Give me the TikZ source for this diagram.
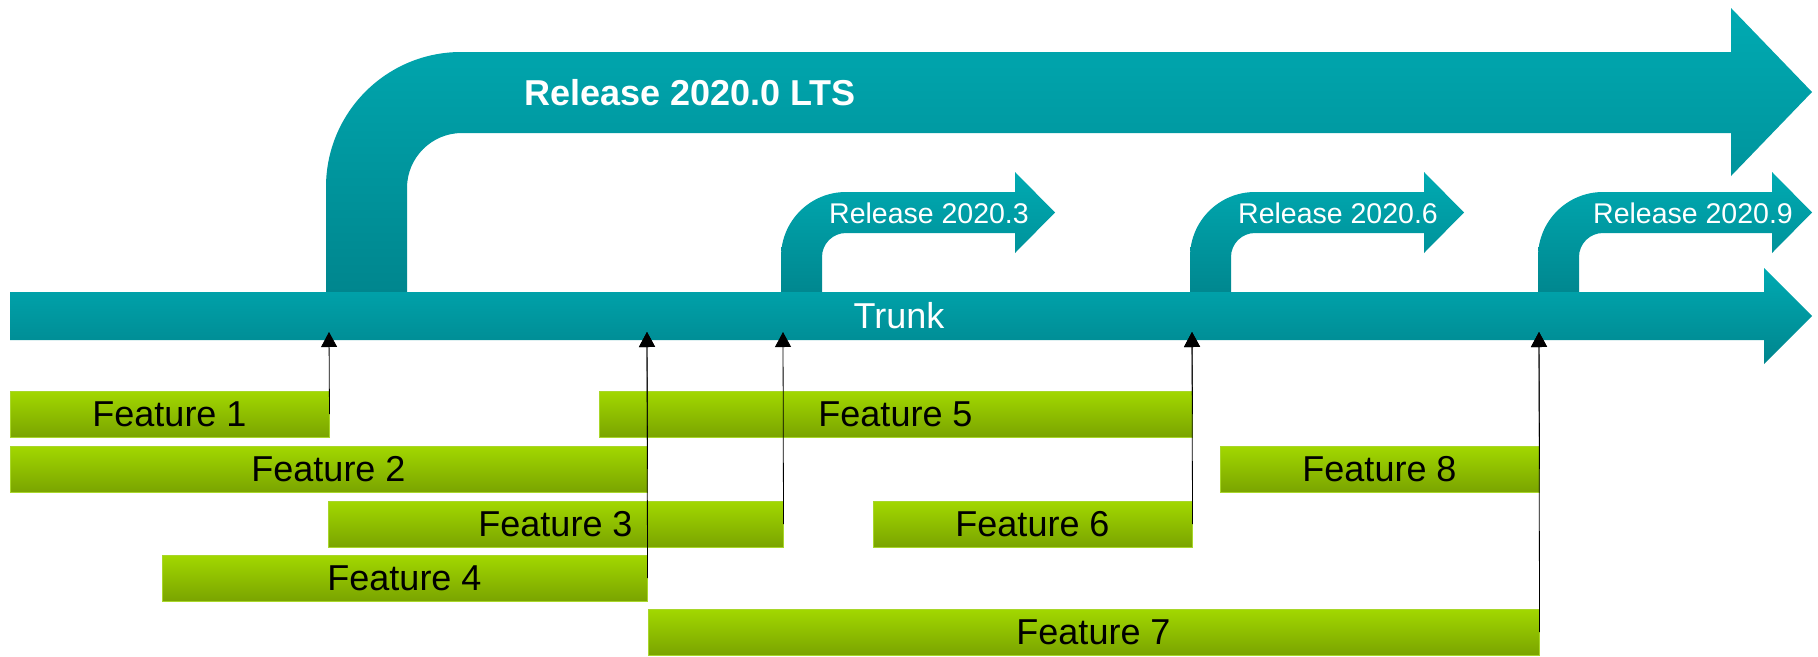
\documentclass[tikz,border=0pt]{standalone}
\usepackage{fontspec}
\setmainfont{Liberation Sans}
\usetikzlibrary{arrows.meta}
\definecolor{tealtop}{HTML}{00AAB2}
\definecolor{tealbot}{HTML}{00858D}
\definecolor{greentop}{HTML}{A2D800}
\definecolor{greenbot}{HTML}{7AA400}
\definecolor{greenedge}{HTML}{A8D62A}
\begin{document}
\begin{tikzpicture}[x=1pt,y=-1pt,
  feat/.style={draw=greenedge, line width=1pt, top color=greentop, bottom color=greenbot,
    minimum height=46pt, inner sep=0pt, font=\fontsize{36}{40}\selectfont, text=black},
  tealfill/.style={top color=tealtop, bottom color=tealbot, draw=none},
  rel/.style={text=white, font=\fontsize{28.5}{32}\selectfont, inner sep=0pt},
  link/.style={line width=0.8pt, draw=black, -{Triangle[width=16pt,length=15pt]}}]
\useasboundingbox (0,0) rectangle (1818,656);

% LTS branch
\shade[tealfill] (326,300) -- (326,187) arc[start angle=180,end angle=270,radius=135]
  -- (1731,52) -- (1731,8) -- (1812,92) -- (1731,176) -- (1731,133) -- (462,133)
  arc[start angle=270,end angle=180,radius=55] -- (407,300) -- cycle;

% small release branches
\foreach \L in {781,1190,1538}{
  \begin{scope}[shift={(\L,0)}]
  \shade[tealfill] (0,300) -- (0,257) arc[start angle=180,end angle=270,radius=65]
    -- (234,192) -- (234,172) -- (274,212.5) -- (234,253) -- (234,233) -- (65,233)
    arc[start angle=270,end angle=180,radius=24] -- (41,300) -- cycle;
  \end{scope}
}

% trunk
\shade[tealfill] (10,292) -- (1764,292) -- (1764,268) -- (1812,316) -- (1764,364)
  -- (1764,340) -- (10,340) -- cycle;

% labels
\node[text=white, inner sep=0pt, font=\fontsize{36}{40}\selectfont\bfseries] (lts) at (690,93) {Release 2020.0 LTS};
\node[rel] (r3) at (929,213) {Release 2020.3};
\node[rel] (r6) at (1338,213) {Release 2020.6};
\node[rel] (r9) at (1693,213) {Release 2020.9};
\node[text=white, inner sep=0pt, font=\fontsize{36}{40}\selectfont] (trunk) at (899,316) {Trunk};

% features
\node[feat, minimum width=319pt] (f1) at (169.5,414) {Feature 1};
\node[feat, minimum width=637pt] (f2) at (328.5,469) {Feature 2};
\node[feat, minimum width=455pt] (f3) at (555.5,524) {Feature 3};
\node[feat, minimum width=485pt] (f4) at (404.5,578) {Feature 4};
\node[feat, minimum width=593pt] (f5) at (895.5,414) {Feature 5};
\node[feat, minimum width=319pt] (f6) at (1032.5,524) {Feature 6};
\node[feat, minimum width=891pt] (f7) at (1093.5,632) {Feature 7};
\node[feat, minimum width=319pt] (f8) at (1379.5,469) {Feature 8};

% merge points on trunk
\coordinate (t1) at (329,332);
\coordinate (t2) at (647,332);
\coordinate (t3) at (783,332);
\coordinate (t4) at (1192,332);
\coordinate (t5) at (1539,332);

\draw[link] (f1.east) -- (t1);
\draw[link] (f2.east) -- (t2);
\draw[link] (f4.east) -- (t2);
\draw[link] (f3.east) -- (t3);
\draw[link] (f5.east) -- (t4);
\draw[link] (f6.east) -- (t4);
\draw[link] (f8.east) -- (t5);
\draw[link] (f7.east) -- (t5);
\end{tikzpicture}
\end{document}
